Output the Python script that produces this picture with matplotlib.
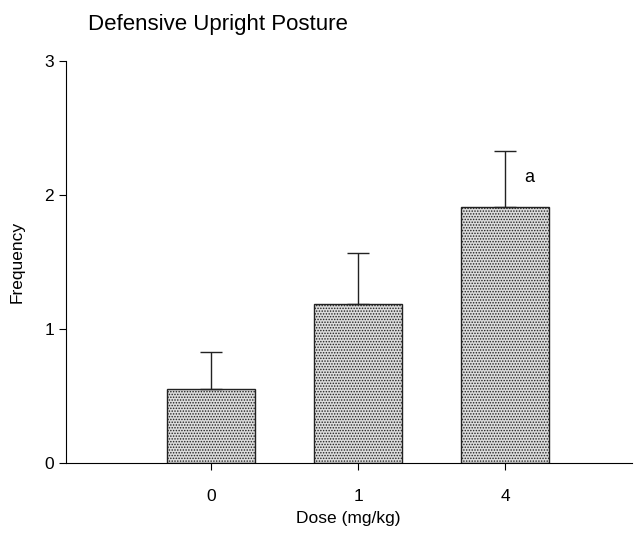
import matplotlib.pyplot as plt
import numpy as np

plt.rcParams['font.family'] = ['Liberation Sans', 'DejaVu Sans']
plt.rcParams['hatch.color'] = '#707070'
plt.rcParams['hatch.linewidth'] = 0.7

# data
doses = ["0", "1", "4"]
means = [0.55, 1.19, 1.91]
sem = [0.28, 0.38, 0.42]
marks = ["", "", "a"]

x = np.arange(len(doses))

fig = plt.figure(figsize=(6.38, 5.42), dpi=100)
ax = fig.add_axes([0.103, 0.146, 0.887, 0.741])

ax.bar(x, means, width=0.6, color='#dcdcdc', edgecolor='#222222',
       linewidth=1.0, hatch='......')
ax.errorbar(x, means, yerr=[np.zeros(len(x)), sem], fmt='none',
            ecolor='#222222', elinewidth=1.0, capsize=8, capthick=1.0)

for xi, m, s, t in zip(x, means, sem, marks):
    if t:
        ax.text(xi + 0.13, m + s - 0.2, t, fontsize=13, ha='left', va='center')

ax.set_xlim(-0.99, 2.86)
ax.set_ylim(0, 3)
ax.set_xticks(x)
ax.set_xticklabels(doses)
ax.set_yticks([0, 1, 2, 3])
ax.tick_params(axis='both', labelsize=12.5, length=5, width=0.8)
ax.tick_params(axis='x', pad=14)

for sp in ['top', 'right']:
    ax.spines[sp].set_visible(False)
for sp in ['left', 'bottom']:
    ax.spines[sp].set_linewidth(0.8)

ax.set_xlabel("Dose (mg/kg)", fontsize=12.5, labelpad=5)
ax.set_ylabel("Frequency", fontsize=12.5, labelpad=14)
fig.text(0.138, 0.955, "Defensive Upright Posture", fontsize=16, ha='left', va='center')

plt.savefig("out.png", dpi=100)
